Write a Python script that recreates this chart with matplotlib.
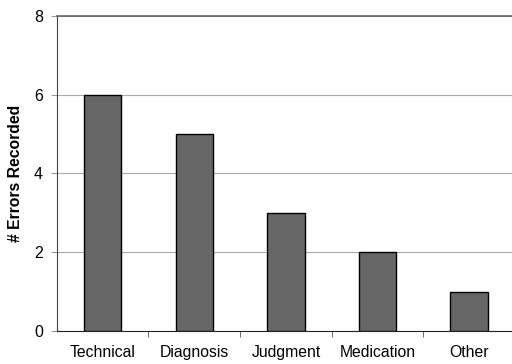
import matplotlib
matplotlib.use("Agg")
import matplotlib.pyplot as plt

categories = ["Technical", "Diagnosis", "Judgment", "Medication", "Other"]
errors = [6, 5, 3, 2, 1]
yticks = [0, 2, 4, 6, 8]

plt.rcParams['font.family'] = ['Liberation Sans', 'DejaVu Sans']

fig = plt.figure(figsize=(5.12, 3.64), dpi=100)
ax = fig.add_axes([0.111, 0.091, 0.895, 0.865])

x = list(range(len(categories)))
ax.bar(x, errors, width=0.41, color="#666666", edgecolor="black", linewidth=1.0, zorder=3)

ax.set_xlim(-0.5, len(categories) - 0.5)
ax.set_ylim(0, 8)
ax.set_yticks(yticks)
ax.set_yticklabels([str(v) for v in yticks], fontsize=11.5)
ax.set_xticks(x)
ax.set_xticklabels(categories, fontsize=11.3)
ax.tick_params(axis='x', length=0, pad=10)
ax.set_xticks([i + 0.5 for i in range(len(categories) - 1)], minor=True)
ax.tick_params(axis='x', which='minor', length=4, color='#555555')
ax.tick_params(axis='y', length=4, color='#999999', pad=6)

ax.grid(axis='y', color='#aaaaaa', linewidth=0.8, zorder=0)
ax.spines['right'].set_visible(False)
ax.spines['top'].set_color('#666666')
ax.spines['top'].set_linewidth(1.2)
ax.spines['left'].set_color('#444444')
ax.spines['bottom'].set_color('#222222')

ax.set_ylabel("# Errors Recorded", fontsize=11.3, fontweight='bold', labelpad=8)

fig.savefig("out.png", dpi=100)
